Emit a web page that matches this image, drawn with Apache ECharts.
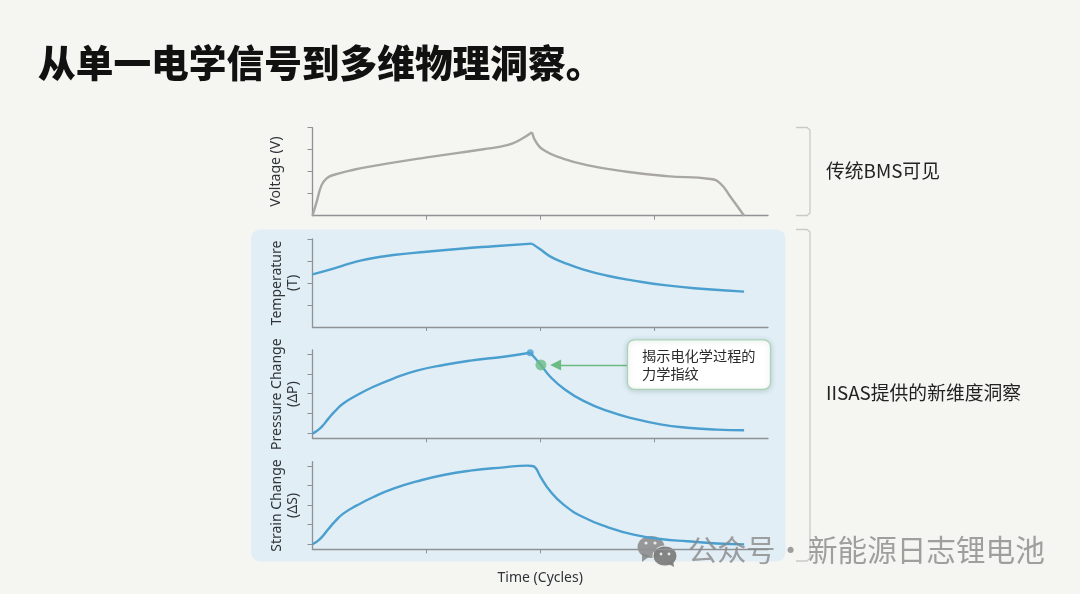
<!DOCTYPE html>
<html>
<head>
<meta charset="utf-8">
<style>html,body{margin:0;padding:0;background:#f5f5f2}#c{width:1080px;height:594px}</style>
<script src="https://cdn.jsdelivr.net/npm/echarts@6/dist/echarts.min.js"></script>
</head>
<body>
<div id="c"></div>
<script>
// Traces as [cycle, level] pairs; a level unit equals one y-axis tick step.
const voltage = [[0,0],[.037,.64],[.08,1.39],[.125,1.70],[.183,1.85],[.33,2.05],[.476,2.21],[1.004,2.65],[1.5,3.02],[1.71,3.21],[1.82,3.44],[1.927,3.79],[1.97,3.29],[2.044,2.94],[2.176,2.64],[2.41,2.30],[2.76,2.0],[3.11,1.80],[3.495,1.67],[3.58,1.47],[3.67,.86],[3.79,0]];
const temperature = [[0,2.39],[.183,2.65],[.33,2.89],[.476,3.08],[.71,3.27],[1.004,3.42],[1.3,3.56],[1.59,3.67],[1.927,3.79],[2.0,3.53],[2.09,3.20],[2.21,2.92],[2.38,2.61],[2.59,2.33],[2.82,2.11],[3.11,1.89],[3.41,1.74],[3.79,1.61]];
const pressure = [[0,-.03],[.037,.10],[.08,.31],[.14,.73],[.198,1.11],[.27,1.50],[.39,1.92],[.535,2.35],[.71,2.77],[.916,3.17],[1.15,3.46],[1.385,3.68],[1.68,3.88],[1.912,4.08],[2.006,3.46],[2.088,2.86],[2.205,2.26],[2.38,1.63],[2.59,1.12],[2.82,.73],[3.055,.44],[3.29,.27],[3.55,.17],[3.79,.14]];
const strain = [[0,0],[.037,.12],[.08,.34],[.14,.77],[.198,1.16],[.27,1.56],[.39,1.98],[.535,2.41],[.71,2.84],[.916,3.21],[1.15,3.54],[1.385,3.76],[1.68,3.93],[1.885,4.02],[1.93,4.0],[1.96,3.9],[2.0,3.47],[2.088,2.70],[2.205,2.02],[2.38,1.37],[2.59,.87],[2.82,.48],[3.055,.26],[3.29,.14],[3.55,.03],[3.79,-.02]];
// Point where each trace turns sharply; the curve is smoothed on either side of it.
const cornerIndex = [11, 8, 13, null];
const pressurePeak = [1.912, 4.08];
const pressureInflection = [2.006, 3.46];
const arrowStart = [2.78, 3.46];
const arrowTip = [2.135, 3.46];

const panelNames = ['Voltage (V)', 'Temperature\n(T)', 'Pressure Change\n(ΔP)', 'Strain Change\n(ΔS)'];
const traces = [voltage, temperature, pressure, strain];
const grey = '#a9a7a4', blue = '#4a9fcf', green = '#6dbb84', axisCol = '#8e9295';
const sans = '"Noto Sans","Noto Sans CJK SC",sans-serif';
const cjk = '"Noto Sans CJK SC","Noto Sans",sans-serif';

const layout = [
  {top: 127.7, height: 88, min: 0, max: 4, ticks: [1,2,3,4], gap: 28},
  {top: 239, height: 88, min: 0, max: 4, ticks: [1,2,3,4], gap: 11},
  {top: 350, height: 88.3, min: -.27, max: 4.22, ticks: [0,1,2,3,4], gap: 11},
  {top: 461.7, height: 87.6, min: -.27, max: 4.22, ticks: [0,1,2,3,4], gap: 11}
];

const traceSeries = [];
traces.forEach((d, i) => {
  const k = cornerIndex[i];
  const parts = k === null ? [d] : [d.slice(0, k + 1), d.slice(k)];
  parts.forEach(part => traceSeries.push({
    type: 'line', xAxisIndex: i, yAxisIndex: i, data: part, showSymbol: false,
    smooth: 0.5, z: 3,
    lineStyle: {color: i === 0 ? grey : blue, width: 2.4}
  }));
});

const chart = echarts.init(document.getElementById('c'), null, {renderer: 'canvas'});
chart.setOption({
  backgroundColor: '#f5f5f2',
  animation: false,
  grid: layout.map(l => ({left: 312.5, width: 455.5, top: l.top, height: l.height})),
  xAxis: layout.map((l, i) => ({
    gridIndex: i, type: 'value', min: 0, max: 4, interval: 1,
    splitLine: {show: false}, axisLabel: {show: false},
    axisLine: {onZero: false, lineStyle: {color: axisCol, width: 1.3}},
    axisTick: {length: 4, customValues: [1,2,3], lineStyle: {color: axisCol, width: 1}},
    name: i === 3 ? 'Time (Cycles)' : '', nameLocation: 'middle', nameGap: 22,
    nameTextStyle: {fontFamily: sans, fontSize: 14, color: '#2f3338'}
  })),
  yAxis: layout.map((l, i) => ({
    gridIndex: i, type: 'value', min: l.min, max: l.max,
    splitLine: {show: false}, axisLabel: {show: false},
    axisLine: {onZero: false, lineStyle: {color: axisCol, width: 1.3}},
    axisTick: {length: 5, customValues: l.ticks, lineStyle: {color: axisCol, width: 1}},
    name: panelNames[i], nameLocation: 'middle', nameRotate: 90, nameGap: l.gap,
    nameTextStyle: {fontFamily: sans, fontSize: 14, color: '#2f3338', lineHeight: 16}
  })),
  series: traceSeries.concat([
    {type: 'scatter', xAxisIndex: 2, yAxisIndex: 2, data: [pressurePeak], symbolSize: 7, z: 4,
     itemStyle: {color: blue}},
    {type: 'scatter', xAxisIndex: 2, yAxisIndex: 2, data: [pressureInflection], symbolSize: 11, z: 5,
     itemStyle: {color: green}},
    {type: 'line', xAxisIndex: 2, yAxisIndex: 2, data: [], z: 4,
     markLine: {silent: true, symbol: ['none', 'triangle'], symbolSize: [11, 11], label: {show: false},
       lineStyle: {color: green, width: 1.4, type: 'solid'},
       data: [[{coord: arrowStart}, {coord: arrowTip}]]}}
  ]),
  graphic: [
    {type: 'rect', z: -10, silent: true, shape: {x: 251, y: 229.5, width: 534.5, height: 332, r: 9}, style: {fill: '#e1eef6'}},
    {type: 'text', left: 38, top: 44, style: {text: '从单一电学信号到多维物理洞察。', font: '800 37.7px ' + cjk, fill: '#111'}},
    {type: 'polyline', z: 1, shape: {points: [[796,127.5],[807,127.5],[810,130],[810,213],[807,215.5],[796,215.5]]}, style: {stroke: '#c9c9c7', lineWidth: 1.3, fill: 'none'}},
    {type: 'polyline', z: 1, shape: {points: [[796,229.5],[807,229.5],[810,232],[810,558],[807,561],[796,561]]}, style: {stroke: '#c9c9c7', lineWidth: 1.3, fill: 'none'}},
    {type: 'text', left: 826, top: 161, style: {text: '传统BMS可见', font: '18.8px ' + cjk, fill: '#222'}},
    {type: 'text', left: 826, top: 383, style: {text: 'IISAS提供的新维度洞察', font: '18.8px ' + cjk, fill: '#222'}},
    {type: 'rect', z: 10, shape: {x: 627.5, y: 339.8, width: 143, height: 49.5, r: 7},
     style: {fill: '#ffffff', stroke: '#a9d3b5', lineWidth: 1.2, shadowBlur: 5, shadowColor: 'rgba(70,110,90,.25)', shadowOffsetY: 1}},
    {type: 'text', z: 11, left: 642, top: 347, style: {text: '揭示电化学过程的\n力学指纹', font: '14.2px ' + cjk, fill: '#2a2a2a', lineHeight: 17.5}},
    // wechat-style mark next to the account name
    {type: 'group', z: 20, silent: true, children: [
      {type: 'ellipse', shape: {cx: 651, cy: 547, rx: 13.5, ry: 11}, style: {fill: 'rgba(135,135,135,.85)'}},
      {type: 'polygon', shape: {points: [[642,553],[642,562],[650,556]]}, style: {fill: 'rgba(135,135,135,.85)'}},
      {type: 'ellipse', shape: {cx: 665, cy: 556, rx: 12, ry: 10}, style: {fill: 'rgba(125,125,125,.95)', stroke: '#eef0ef', lineWidth: 1}},
      {type: 'polygon', shape: {points: [[667,563],[674,567],[673,560]]}, style: {fill: 'rgba(125,125,125,.95)'}},
      {type: 'circle', shape: {cx: 646, cy: 543, r: 1.6}, style: {fill: '#e8e8e8'}},
      {type: 'circle', shape: {cx: 655, cy: 543, r: 1.6}, style: {fill: '#e8e8e8'}},
      {type: 'circle', shape: {cx: 661, cy: 554, r: 1.4}, style: {fill: '#e8e8e8'}},
      {type: 'circle', shape: {cx: 669, cy: 554, r: 1.4}, style: {fill: '#e8e8e8'}}
    ]},
    {type: 'text', z: 20, silent: true, left: 688, top: 535, style: {text: '公众号', font: '29.2px ' + cjk, fill: 'rgba(135,135,135,.78)'}},
    {type: 'text', z: 20, silent: true, left: 776, top: 535, style: {text: '·', font: '29.2px ' + cjk, fill: 'rgba(135,135,135,.78)'}},
    {type: 'text', z: 20, silent: true, left: 808, top: 535, style: {text: '新能源日志锂电池', font: '29.6px ' + cjk, fill: 'rgba(135,135,135,.78)'}}
  ]
});
</script>
</body>
</html>
